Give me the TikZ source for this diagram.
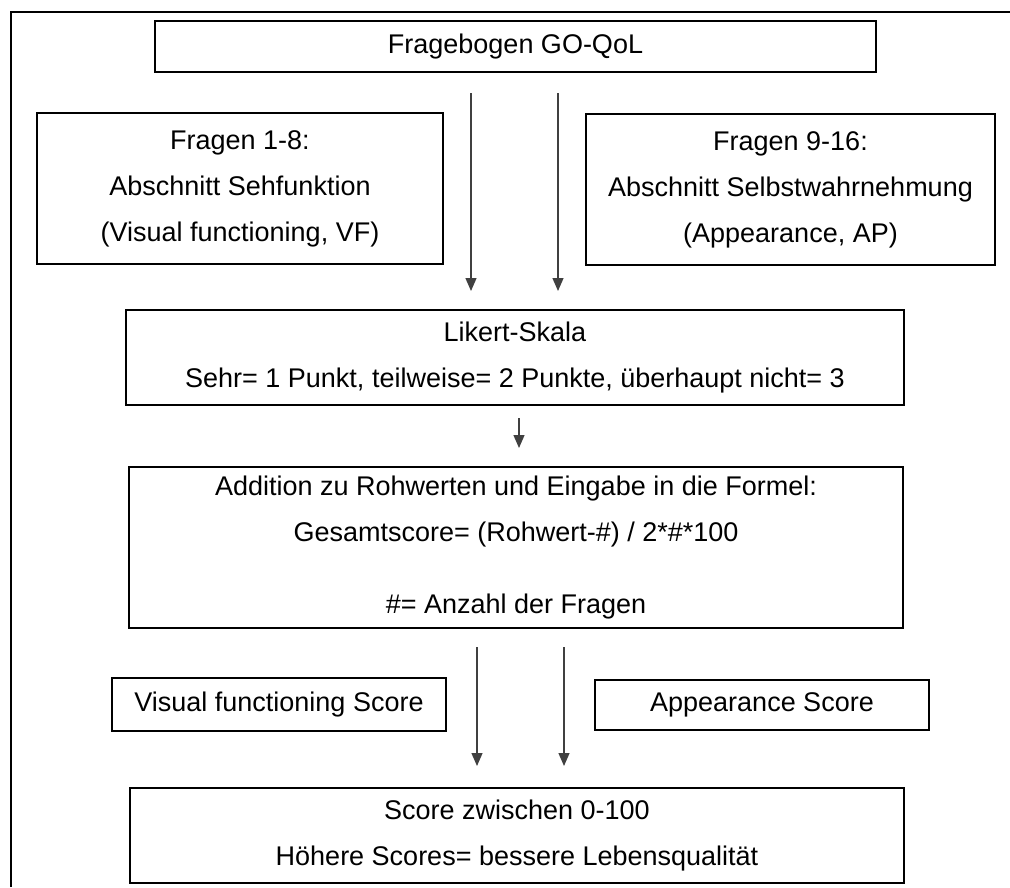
\documentclass[tikz,border=0pt]{standalone}
\usepackage{fontspec}
\setmainfont{Liberation Sans}
\usetikzlibrary{arrows.meta, positioning}

\begin{document}
\begin{tikzpicture}[
        x=1pt, y=-1pt,
        box/.style={
            rectangle,
            draw=black,
            line width=2pt,
            inner sep=0pt,
            align=center,
            font=\fontsize{27}{46}\selectfont
        },
        arrow/.style={-{Triangle[width=11pt,length=13pt]}, line width=1.3pt, draw=black!75}
    ]

    \useasboundingbox (0,0) rectangle (1010,887);
    \draw [line width=2pt] (11,887) -- (11,12) -- (1010,12);

    \node (bogen) [box, minimum width=721pt, minimum height=51pt] at (515.5,46.5) {Fragebogen GO-QoL};
    \node (vf) [box, minimum width=406pt, minimum height=151pt] at (240,188.5)
        {Fragen 1-8:\\Abschnitt Sehfunktion\\(Visual functioning, VF)};
    \node (ap) [box, minimum width=409pt, minimum height=151pt] at (790.5,189.5)
        {Fragen 9-16:\\Abschnitt Selbstwahrnehmung\\(Appearance, AP)};
    \node (likert) [box, minimum width=778pt, minimum height=95pt] at (515,357.5)
        {Likert-Skala\\Sehr= 1 Punkt, teilweise= 2 Punkte, überhaupt nicht= 3};
    \node (formel) [box, minimum width=774pt, minimum height=161pt] at (516,547.5)
        {Addition zu Rohwerten und Eingabe in die Formel:\\Gesamtscore= (Rohwert-\#) / 2*\#*100\\[26pt]\#= Anzahl der Fragen};
    \node (vfscore) [box, minimum width=334pt, minimum height=53pt] at (279,704.5) {Visual functioning Score};
    \node (apscore) [box, minimum width=334pt, minimum height=50pt] at (762,705) {Appearance Score};
    \node (score) [box, minimum width=774pt, minimum height=95pt] at (517,835.5)
        {Score zwischen 0-100\\Höhere Scores= bessere Lebensqualität};

    % Pfeile ohne Anschluss an die Kaesten
    \coordinate (a1) at (471,93);
    \coordinate (a1e) at (471,291);
    \coordinate (a2) at (558,93);
    \coordinate (a2e) at (558,291);
    \coordinate (b1) at (519,418);
    \coordinate (b1e) at (519,448);
    \coordinate (c1) at (477,647);
    \coordinate (c1e) at (477,766);
    \coordinate (c2) at (564,647);
    \coordinate (c2e) at (564,766);

    \draw [arrow] (a1) -- (a1e);
    \draw [arrow] (a2) -- (a2e);
    \draw [arrow] (b1) -- (b1e);
    \draw [arrow] (c1) -- (c1e);
    \draw [arrow] (c2) -- (c2e);

\end{tikzpicture}
\end{document}
